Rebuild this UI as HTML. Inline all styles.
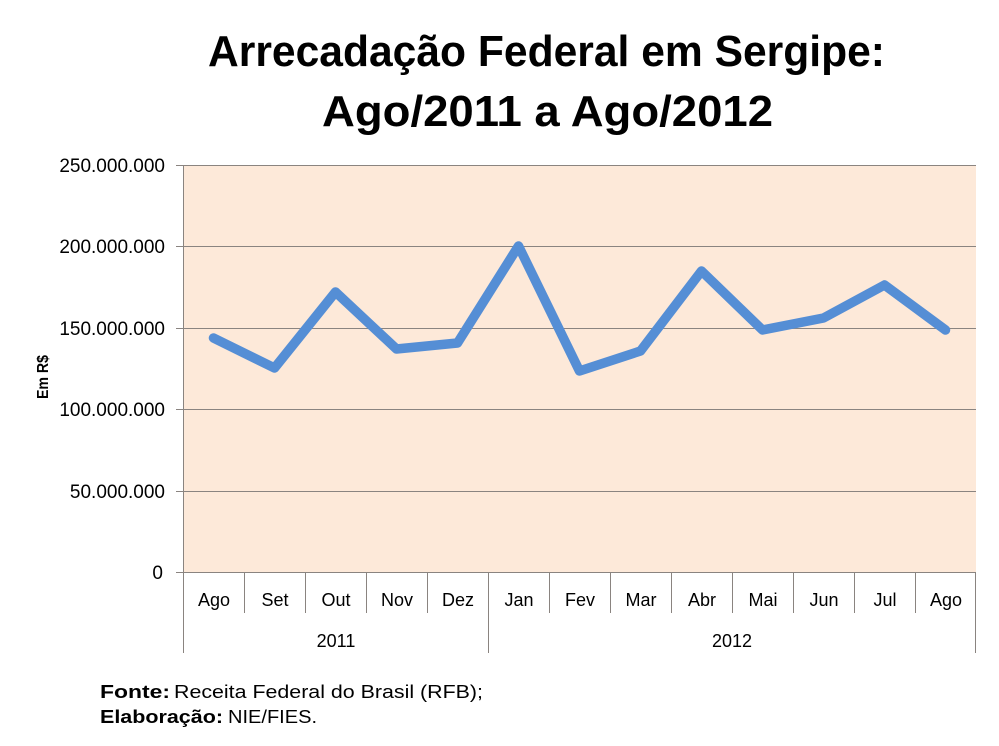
<!DOCTYPE html>
<html>
<head>
<meta charset="utf-8">
<style>
  html, body { margin:0; padding:0; background:#ffffff; }
  svg { display:block; }
  text { font-family: "Liberation Sans", "DejaVu Sans", sans-serif; fill:#000; }
</style>
</head>
<body>
<svg width="999" height="746" viewBox="0 0 999 746" xmlns="http://www.w3.org/2000/svg">
  <rect x="0" y="0" width="999" height="746" fill="#ffffff"/>

  <!-- Title -->
  <text x="546.5" y="66" font-size="44" font-weight="bold" text-anchor="middle" textLength="677" lengthAdjust="spacingAndGlyphs">Arrecadação Federal em Sergipe:</text>
  <text x="547.5" y="126" font-size="44" font-weight="bold" text-anchor="middle" textLength="451" lengthAdjust="spacingAndGlyphs">Ago/2011 a Ago/2012</text>

  <!-- Plot area -->
  <rect x="183" y="165" width="793" height="407.3" fill="#FDE9D9"/>

  <!-- Gridlines -->
  <g stroke="#8a8480" stroke-width="1">
    <line x1="176" y1="165.5" x2="976" y2="165.5"/>
    <line x1="176" y1="246.5" x2="976" y2="246.5"/>
    <line x1="176" y1="328.5" x2="976" y2="328.5"/>
    <line x1="176" y1="409.5" x2="976" y2="409.5"/>
    <line x1="176" y1="491.5" x2="976" y2="491.5"/>
    <line x1="176" y1="572.5" x2="976" y2="572.5"/>
    <!-- vertical axis -->
    <line x1="183.5" y1="165" x2="183.5" y2="653"/>
    <!-- category ticks -->
    <line x1="244.5" y1="572" x2="244.5" y2="613"/>
    <line x1="305.5" y1="572" x2="305.5" y2="613"/>
    <line x1="366.5" y1="572" x2="366.5" y2="613"/>
    <line x1="427.5" y1="572" x2="427.5" y2="613"/>
    <line x1="488.5" y1="572" x2="488.5" y2="653"/>
    <line x1="549.5" y1="572" x2="549.5" y2="613"/>
    <line x1="610.5" y1="572" x2="610.5" y2="613"/>
    <line x1="671.5" y1="572" x2="671.5" y2="613"/>
    <line x1="732.5" y1="572" x2="732.5" y2="613"/>
    <line x1="793.5" y1="572" x2="793.5" y2="613"/>
    <line x1="854.5" y1="572" x2="854.5" y2="613"/>
    <line x1="915.5" y1="572" x2="915.5" y2="613"/>
    <line x1="975.5" y1="572" x2="975.5" y2="653"/>
  </g>

  <!-- Y axis labels -->
  <g font-size="19" text-anchor="end">
    <text x="165" y="172">250.000.000</text>
    <text x="165" y="253">200.000.000</text>
    <text x="165" y="335">150.000.000</text>
    <text x="165" y="416">100.000.000</text>
    <text x="165" y="498">50.000.000</text>
    <text x="163" y="579">0</text>
  </g>

  <!-- Y axis title -->
  <text transform="translate(48,377) rotate(-90)" font-size="16" font-weight="bold" text-anchor="middle" textLength="44" lengthAdjust="spacingAndGlyphs">Em R$</text>

  <!-- Month labels -->
  <g font-size="18" text-anchor="middle">
    <text x="214" y="606">Ago</text>
    <text x="275" y="606">Set</text>
    <text x="336" y="606">Out</text>
    <text x="397" y="606">Nov</text>
    <text x="458" y="606">Dez</text>
    <text x="519" y="606">Jan</text>
    <text x="580" y="606">Fev</text>
    <text x="641" y="606">Mar</text>
    <text x="702" y="606">Abr</text>
    <text x="763" y="606">Mai</text>
    <text x="824" y="606">Jun</text>
    <text x="885" y="606">Jul</text>
    <text x="946" y="606">Ago</text>
    <text x="336" y="647">2011</text>
    <text x="732" y="647">2012</text>
  </g>

  <!-- Data line -->
  <polyline fill="none" stroke="#558ED5" stroke-width="9.5" stroke-linejoin="round" stroke-linecap="round"
    points="213.5,338 274.5,368 335.5,292 396.5,349 457.5,343 518.5,246 579.5,371 640.5,351 701.5,271 762.5,330 823.5,318 884.5,285 945.5,330"/>

  <!-- Footer -->
  <text x="100" y="698" font-size="18" font-weight="bold" textLength="70" lengthAdjust="spacingAndGlyphs">Fonte:</text>
  <text x="174" y="698" font-size="18" textLength="309" lengthAdjust="spacingAndGlyphs">Receita Federal do Brasil (RFB);</text>
  <text x="100" y="723" font-size="18" font-weight="bold" textLength="123" lengthAdjust="spacingAndGlyphs">Elaboração:</text>
  <text x="228" y="723" font-size="18" textLength="89" lengthAdjust="spacingAndGlyphs">NIE/FIES.</text>
</svg>
</body>
</html>
